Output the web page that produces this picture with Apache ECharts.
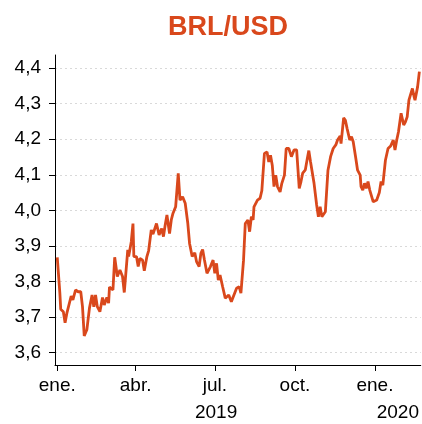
<!DOCTYPE html>
<html><head><meta charset="utf-8">
<script src="https://cdn.jsdelivr.net/npm/echarts@6/dist/echarts.min.js"></script>
<style>html,body{margin:0;padding:0;background:#fff}#c{width:422px;height:424px}</style>
</head><body><div id="c"></div>
<script>
const title = 'BRL/USD';
const dates = [
'2019-01-01','2019-01-04','2019-01-05','2019-01-08','2019-01-10','2019-01-12','2019-01-14','2019-01-17','2019-01-19','2019-01-22',
'2019-01-25','2019-01-28','2019-01-30','2019-02-01','2019-02-04','2019-02-07','2019-02-10','2019-02-12','2019-02-14','2019-02-16',
'2019-02-19','2019-02-22','2019-02-24','2019-02-27','2019-03-01','2019-03-02','2019-03-06','2019-03-08','2019-03-11','2019-03-14',
'2019-03-17','2019-03-19','2019-03-23','2019-03-24','2019-03-27','2019-03-29','2019-03-30','2019-04-02','2019-04-04','2019-04-06',
'2019-04-09','2019-04-11','2019-04-14','2019-04-16','2019-04-19','2019-04-21','2019-04-25','2019-04-28','2019-05-01','2019-05-03',
'2019-05-05','2019-05-07','2019-05-10','2019-05-12','2019-05-14','2019-05-17','2019-05-20','2019-05-22','2019-05-25','2019-05-28',
'2019-05-31','2019-06-02','2019-06-05','2019-06-08','2019-06-10','2019-06-13','2019-06-15','2019-06-17','2019-06-19','2019-06-22',
'2019-06-24','2019-06-26','2019-06-29','2019-07-01','2019-07-03','2019-07-05','2019-07-07','2019-07-10','2019-07-13','2019-07-15',
'2019-07-17','2019-07-20','2019-07-23','2019-07-26','2019-07-29','2019-07-31','2019-08-03','2019-08-05','2019-08-08','2019-08-10',
'2019-08-12','2019-08-14','2019-08-15','2019-08-17','2019-08-19','2019-08-22','2019-08-24','2019-08-27','2019-08-30','2019-09-01',
'2019-09-03','2019-09-05','2019-09-07','2019-09-09','2019-09-11','2019-09-14','2019-09-16','2019-09-19','2019-09-21','2019-09-24',
'2019-09-27','2019-09-30','2019-10-03','2019-10-06','2019-10-08','2019-10-10','2019-10-13','2019-10-15','2019-10-17','2019-10-19',
'2019-10-21','2019-10-23','2019-10-26','2019-10-28','2019-10-30','2019-11-01','2019-11-02','2019-11-05','2019-11-08','2019-11-11',
'2019-11-14','2019-11-17','2019-11-19','2019-11-22','2019-11-23','2019-11-26','2019-11-28','2019-11-30','2019-12-03','2019-12-05',
'2019-12-07','2019-12-10','2019-12-12','2019-12-15','2019-12-16','2019-12-18','2019-12-20','2019-12-22','2019-12-24','2019-12-26',
'2019-12-28','2019-12-30','2020-01-01','2020-01-03','2020-01-05','2020-01-06','2020-01-08','2020-01-10','2020-01-12','2020-01-13',
'2020-01-16','2020-01-19','2020-01-22','2020-01-24','2020-01-26','2020-01-28','2020-01-29','2020-01-31','2020-02-03','2020-02-05',
'2020-02-07','2020-02-09','2020-02-11','2020-02-13','2020-02-15','2020-02-16','2020-02-19','2020-02-21'
];
const values = [
3.868,3.767,3.722,3.715,3.684,3.710,3.715,3.759,3.748,3.776,
3.771,3.771,3.729,3.647,3.664,3.725,3.762,3.729,3.762,3.729,
3.715,3.755,3.734,3.755,3.739,3.784,3.776,3.868,3.814,3.832,
3.814,3.769,3.889,3.870,3.911,3.963,3.870,3.870,3.842,3.865,
3.860,3.830,3.870,3.887,3.945,3.933,3.963,3.931,3.949,3.926,
3.959,3.987,3.935,3.973,3.992,4.010,4.104,4.029,4.038,4.020,
3.963,3.907,3.870,3.881,3.856,3.842,3.879,3.890,3.862,3.823,
3.823,3.842,3.860,3.823,3.851,3.804,3.818,3.785,3.753,3.751,
3.762,3.743,3.762,3.781,3.785,3.767,3.860,3.963,3.973,3.940,
3.982,3.973,4.010,4.010,4.029,4.034,4.055,4.160,4.164,4.136,
4.155,4.127,4.067,4.099,4.067,4.052,4.076,4.099,4.174,4.174,
4.151,4.170,4.170,4.062,4.081,4.105,4.114,4.142,4.168,4.136,
4.132,4.076,4.015,3.982,4.010,3.982,3.978,3.996,4.113,4.151,
4.174,4.184,4.198,4.209,4.188,4.260,4.253,4.230,4.198,4.207,
4.193,4.146,4.113,4.099,4.067,4.057,4.076,4.062,4.081,4.057,
4.057,4.024,4.020,4.029,4.043,4.050,4.081,4.071,4.071,4.141,
4.174,4.181,4.198,4.170,4.198,4.221,4.224,4.273,4.240,4.249,
4.263,4.310,4.315,4.343,4.319,4.310,4.348,4.390
];
const yTicks = [3.6,3.7,3.8,3.9,4.0,4.1,4.2,4.3,4.4];
const monthTicks = ['2019-01-01','2019-04-01','2019-07-01','2019-10-01','2020-01-01'];
const monthLabels = ['ene.','abr.','jul.','oct.','ene.'];
const yearLabels = ['2019','2020'];

const xMin = new Date(2018, 11, 29, 10).getTime();
const xMax = new Date(2020, 1, 22, 14).getTime();
const ts = s => { const p = s.split('-').map(Number); return new Date(p[0], p[1]-1, p[2]).getTime(); };
const monthTs = monthTicks.map(ts);
const yearMid = yearLabels.map(y => {
  const a = Math.max(xMin, new Date(+y, 0, 1).getTime());
  const b = Math.min(xMax, new Date(+y + 1, 0, 1).getTime());
  return Math.round((a + b) / 2);
});
const COLOR = '#d9481c';
const FONT = 'Liberation Sans, Arial, sans-serif';
const LBL = 19;
const near = (arr, v) => arr.findIndex(a => Math.abs(a - v) < 1000);

const chart = echarts.init(document.getElementById('c'), null, {renderer: 'canvas'});
chart.setOption({
  animation: false,
  backgroundColor: '#fff',
  title: {
    text: title, left: 223, top: 9, textAlign: 'center',
    textStyle: {color: COLOR, fontSize: 27, fontWeight: 'bold', fontFamily: FONT}
  },
  grid: {left: 55, right: 0, top: 55, bottom: 59, containLabel: false},
  xAxis: [{
    type: 'value', min: xMin, max: xMax, scale: true,
    axisLine: {show: true, onZero: false, lineStyle: {color: '#000', width: 1}},
    axisTick: {show: true, length: 6, lineStyle: {color: '#000'}, customValues: monthTs},
    axisLabel: {
      customValues: monthTs, color: '#000', fontSize: LBL, fontFamily: FONT, margin: 11,
      showMinLabel: true, showMaxLabel: true, hideOverlap: false,
      formatter: v => { const i = near(monthTs, v); return i >= 0 ? monthLabels[i] : ''; }
    },
    splitLine: {show: false}
  }, {
    type: 'value', min: xMin, max: xMax, scale: true, position: 'bottom',
    axisLine: {show: false, onZero: false}, axisTick: {show: false}, splitLine: {show: false},
    axisLabel: {
      customValues: yearMid, color: '#000', fontSize: LBL, fontFamily: FONT, margin: 38,
      hideOverlap: false,
      formatter: v => { const i = near(yearMid, v); return i >= 0 ? yearLabels[i] : ''; }
    }
  }],
  yAxis: {
    type: 'value', min: 3.565, max: 4.437,
    axisLine: {show: true, lineStyle: {color: '#000', width: 1}},
    axisTick: {show: true, length: 6, lineStyle: {color: '#000'}, customValues: yTicks},
    axisLabel: {
      customValues: yTicks, color: '#000', fontSize: LBL, fontFamily: FONT, margin: 14,
      formatter: v => v.toFixed(1).replace('.', ',')
    },
    splitLine: {show: true, lineStyle: {color: '#d9d9d9', type: [2, 3], width: 1}}
  },
  series: [{
    type: 'line', xAxisIndex: 0, showSymbol: false, symbol: 'none',
    data: dates.map((d, i) => [ts(d), values[i]]),
    lineStyle: {color: COLOR, width: 2.8}, itemStyle: {color: COLOR}
  }]
});
</script></body></html>
